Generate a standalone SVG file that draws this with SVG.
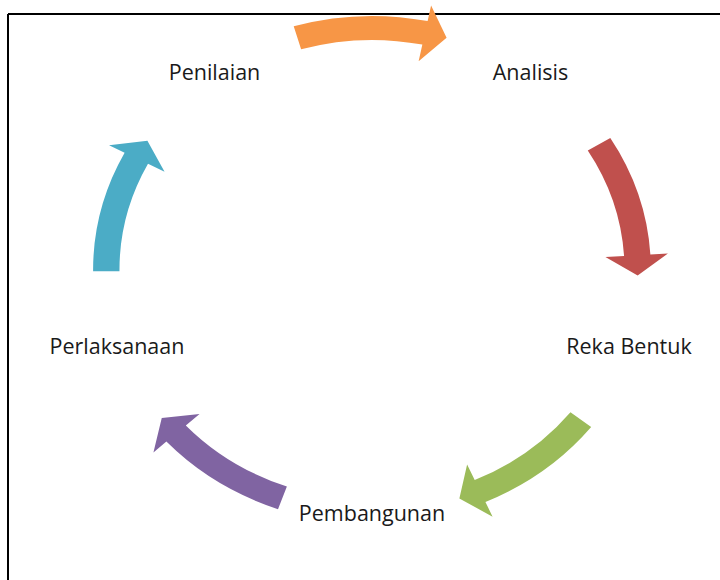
<svg xmlns="http://www.w3.org/2000/svg" xmlns:xlink="http://www.w3.org/1999/xlink" width="720" height="580" viewBox="0 0 720 580">
  <style>
    .lbl { font-family: "Open Sans", "Noto Sans", sans-serif; font-size: 21.5px; fill: #1a1a1a; text-anchor: middle; }
  </style>
  <defs>
    <path id="arc-arrow" d="M243.79,-71.30 A254,254 0 0 1 248.90,50.64 L264.58,53.83 L232.27,67.93 L208.72,42.47 L225.38,45.86 A230,230 0 0 0 220.75,-64.56 Z"/>
  </defs>
  <rect x="0" y="0" width="720" height="580" fill="#ffffff"/>
  <path d="M8,14 H720 M8,14 V580" fill="none" stroke="#000000" stroke-width="2"/>
  <g id="connectors">
    <use xlink:href="#arc-arrow" href="#arc-arrow" fill="#F79646" transform="translate(372 270) scale(1.098 1) rotate(-90)"/>
    <use xlink:href="#arc-arrow" href="#arc-arrow" fill="#C0504D" transform="translate(372 270) scale(1.098 1) rotate(-15)"/>
    <use xlink:href="#arc-arrow" href="#arc-arrow" fill="#9BBB59" transform="translate(372 270) scale(1.098 1) rotate(54.5)"/>
    <use xlink:href="#arc-arrow" href="#arc-arrow" fill="#8064A2" transform="translate(372 270) scale(1.098 1) rotate(126)"/>
    <use xlink:href="#arc-arrow" href="#arc-arrow" fill="#4BACC6" transform="translate(372 270) scale(1.098 1) rotate(196)"/>
  </g>
  <g id="node-penilaian"><text class="lbl" x="214.5" y="80">Penilaian</text></g>
  <g id="node-analisis"><text class="lbl" x="530.5" y="80">Analisis</text></g>
  <g id="node-reka-bentuk"><text class="lbl" x="629" y="354">Reka Bentuk</text></g>
  <g id="node-pembangunan"><text class="lbl" x="372" y="521">Pembangunan</text></g>
  <g id="node-perlaksanaan"><text class="lbl" x="117" y="354">Perlaksanaan</text></g>
</svg>
